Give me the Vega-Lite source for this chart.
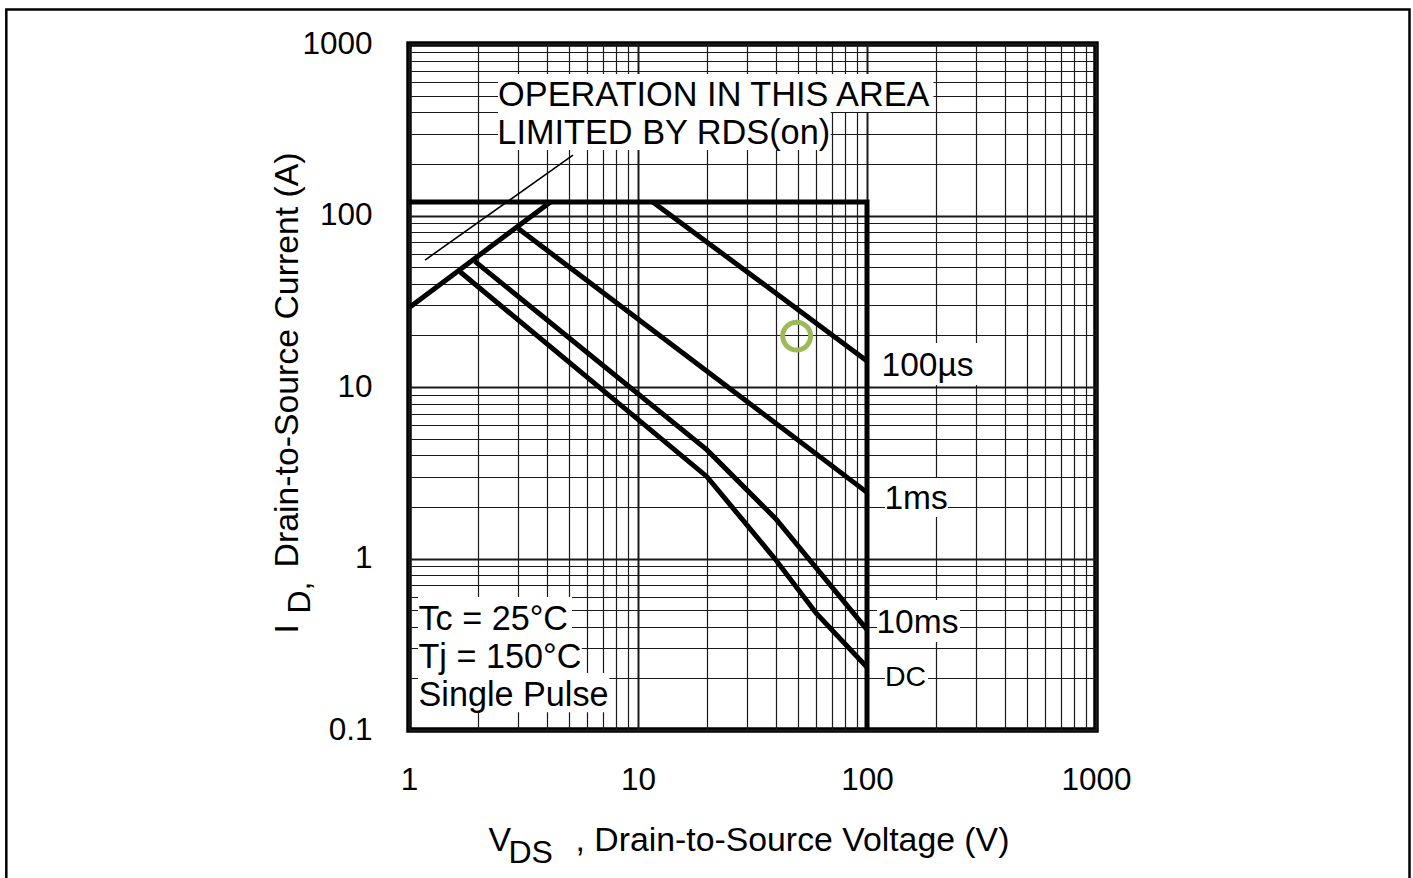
{
  "$schema": "https://vega.github.io/schema/vega-lite/v6.json",
  "width": 687,
  "height": 686,
  "autosize": {"type": "none"},
  "padding": {"left": 409, "top": 44, "right": 317, "bottom": 148},
  "background": "white",
  "config": {
    "view": {"stroke": "black", "strokeWidth": 5.5},
    "font": "Liberation Sans",
    "axis": {"labelFont": "Liberation Sans", "titleFont": "Liberation Sans", "labelColor": "black", "titleColor": "black", "titleFontWeight": "normal"}
  },
  "datasets": {
    "page": [{"v": 0.01744, "v2": 23390, "i": 1589, "i2": 0.01167}],
    "boxes": [
      {"v": 2.447, "v2": 195, "i": 668, "i2": 401},
      {"v": 2.447, "v2": 69.5, "i": 401, "i2": 241},
      {"v": 1.095, "v2": 5.15, "i": 0.596, "i2": 0.358},
      {"v": 1.095, "v2": 5.68, "i": 0.358, "i2": 0.215},
      {"v": 1.095, "v2": 7.5, "i": 0.215, "i2": 0.127},
      {"v": 105.2, "v2": 311.5, "i": 18.06, "i2": 10.27},
      {"v": 119.8, "v2": 225.8, "i": 2.947, "i2": 1.746},
      {"v": 110.6, "v2": 254.7, "i": 0.573, "i2": 0.326},
      {"v": 119.8, "v2": 184.7, "i": 0.2735, "i2": 0.1557}
    ],
    "curves": [
      {"s": "RDS", "k": 0, "v": 1, "i": 29},
      {"s": "RDS", "k": 1, "v": 4.15, "i": 120},
      {"s": "limit", "k": 0, "v": 1, "i": 120},
      {"s": "limit", "k": 1, "v": 100, "i": 120},
      {"s": "limit", "k": 2, "v": 100, "i": 0.1},
      {"s": "100us", "k": 0, "v": 11.6, "i": 120},
      {"s": "100us", "k": 1, "v": 100, "i": 14.2},
      {"s": "1ms", "k": 0, "v": 3.0, "i": 84},
      {"s": "1ms", "k": 1, "v": 100, "i": 2.43},
      {"s": "10ms", "k": 0, "v": 1.94, "i": 54},
      {"s": "10ms", "k": 1, "v": 20, "i": 4.3},
      {"s": "10ms", "k": 2, "v": 40, "i": 1.7},
      {"s": "10ms", "k": 3, "v": 100, "i": 0.385},
      {"s": "DC", "k": 0, "v": 1.67, "i": 47},
      {"s": "DC", "k": 1, "v": 20, "i": 3.0},
      {"s": "DC", "k": 2, "v": 40, "i": 0.98},
      {"s": "DC", "k": 3, "v": 60, "i": 0.48},
      {"s": "DC", "k": 4, "v": 100, "i": 0.232}
    ],
    "pointer": [
      {"v": 1.175, "i": 55},
      {"v": 5.2, "i": 225}
    ],
    "marker": [{"v": 49.3, "i": 19.8}],
    "regionNote": [
      {"v": 2.45, "i": 497, "t": "OPERATION IN THIS AREA"},
      {"v": 2.43, "i": 299, "t": "LIMITED BY RDS(on)"}
    ],
    "conditions": [
      {"v": 1.1, "i": 0.438, "t": "Tc = 25°C"},
      {"v": 1.1, "i": 0.263, "t": "Tj = 150°C"},
      {"v": 1.1, "i": 0.158, "t": "Single Pulse"}
    ],
    "curveLabels": [
      {"v": 115.7, "i": 13.3, "t": "100µs"},
      {"v": 119.2, "i": 2.22, "t": "1ms"},
      {"v": 110, "i": 0.418, "t": "10ms"}
    ],
    "dcLabel": [{"v": 119.8, "i": 0.204, "t": "DC"}]
  },
  "encoding": {
    "x": {"field": "v", "type": "quantitative", "scale": {"type": "log", "domain": [1, 1000], "nice": false}, "axis": null},
    "y": {"field": "i", "type": "quantitative", "scale": {"type": "log", "domain": [0.1, 1000], "nice": false}, "axis": null}
  },
  "layer": [
    {
      "data": {"name": "page"},
      "mark": {"type": "rect", "filled": false, "stroke": "black", "strokeWidth": 2.5, "clip": false},
      "encoding": {"x2": {"field": "v2"}, "y2": {"field": "i2"}}
    },
    {
      "data": {"name": "boxes"},
      "mark": {"type": "rect", "fill": "white", "strokeWidth": 0},
      "encoding": {"x2": {"field": "v2"}, "y2": {"field": "i2"}}
    },
    {
      "data": {"name": "curves"},
      "mark": {"type": "line", "stroke": "black", "strokeWidth": 5, "strokeJoin": "miter"},
      "encoding": {
        "x": {
          "field": "v", "type": "quantitative",
          "scale": {"type": "log", "domain": [1, 1000], "nice": false},
          "axis": {
            "orient": "bottom",
            "values": [1, 2, 3, 4, 5, 6, 7, 8, 9, 10, 20, 30, 40, 50, 60, 70, 80, 90, 100, 200, 300, 400, 500, 600, 700, 800, 900, 1000],
            "grid": true,
            "gridColor": "#1a1a1a",
            "gridWidth": {"condition": {"test": "indexof([1,10,100,1000], datum.value) >= 0", "value": 2}, "value": 1.2},
            "domain": false, "ticks": false, "tickSize": 0,
            "labelExpr": "indexof([1,10,100,1000], datum.value) >= 0 ? format(datum.value, '~g') : ''",
            "labelFlush": false, "labelOverlap": false, "labelBound": false,
            "labelFontSize": 31.5, "labelPadding": 50, "labelBaseline": "middle",
            "title": ", Drain-to-Source Voltage (V)",
            "titleFontSize": 33.8, "titleX": 166, "titleY": 120, "titleAlign": "left", "titleBaseline": "alphabetic"
          }
        },
        "y": {
          "field": "i", "type": "quantitative",
          "scale": {"type": "log", "domain": [0.1, 1000], "nice": false},
          "axis": {
            "orient": "left",
            "values": [0.1, 0.2, 0.3, 0.4, 0.5, 0.6, 0.7, 0.8, 0.9, 1, 2, 3, 4, 5, 6, 7, 8, 9, 10, 20, 30, 40, 50, 60, 70, 80, 90, 100, 200, 300, 400, 500, 600, 700, 800, 900, 1000],
            "grid": true,
            "gridColor": "#1a1a1a",
            "gridWidth": {"condition": {"test": "indexof([0.1,1,10,100,1000], datum.value) >= 0", "value": 2}, "value": 1.2},
            "domain": false, "ticks": false, "tickSize": 0,
            "labelExpr": "indexof([0.1,1,10,100,1000], datum.value) >= 0 ? format(datum.value, '~g') : ''",
            "labelFlush": false, "labelOverlap": false, "labelBound": false,
            "labelFontSize": 31.5, "labelPadding": 37, "labelAlign": "right", "labelBaseline": "middle",
            "title": "Drain-to-Source Current (A)",
            "titleFontSize": 33.8, "titleAngle": -90, "titleX": -112, "titleY": 523, "titleAlign": "left", "titleBaseline": "alphabetic"
          }
        },
        "detail": {"field": "s"},
        "order": {"field": "k"}
      }
    },
    {
      "data": {"name": "pointer"},
      "mark": {"type": "line", "stroke": "black", "strokeWidth": 1.6},
      "encoding": {
        "x": {
          "field": "v", "type": "quantitative",
          "scale": {"type": "log", "domain": [1, 1000], "nice": false},
          "axis": {"orient": "bottom", "grid": false, "labels": false, "ticks": false, "domain": false,
                   "title": "V", "titleFontSize": 33.8, "titleX": 79, "titleY": 120, "titleAlign": "left", "titleBaseline": "alphabetic"}
        },
        "y": {
          "field": "i", "type": "quantitative",
          "scale": {"type": "log", "domain": [0.1, 1000], "nice": false},
          "axis": {"orient": "left", "grid": false, "labels": false, "ticks": false, "domain": false,
                   "title": "I", "titleFontSize": 33.8, "titleAngle": -90, "titleX": -112, "titleY": 589, "titleAlign": "left", "titleBaseline": "alphabetic"}
        }
      }
    },
    {
      "data": {"name": "marker"},
      "mark": {"type": "point", "shape": "circle", "filled": false, "stroke": "#9BBB59", "strokeWidth": 5, "size": 780, "opacity": 1},
      "encoding": {
        "x": {
          "field": "v", "type": "quantitative",
          "scale": {"type": "log", "domain": [1, 1000], "nice": false},
          "axis": {"orient": "bottom", "grid": false, "labels": false, "ticks": false, "domain": false,
                   "title": "DS", "titleFontSize": 32, "titleX": 99, "titleY": 132, "titleAlign": "left", "titleBaseline": "alphabetic"}
        },
        "y": {
          "field": "i", "type": "quantitative",
          "scale": {"type": "log", "domain": [0.1, 1000], "nice": false},
          "axis": {"orient": "left", "grid": false, "labels": false, "ticks": false, "domain": false,
                   "title": "D,", "titleFontSize": 32, "titleAngle": -90, "titleX": -100, "titleY": 569, "titleAlign": "left", "titleBaseline": "alphabetic"}
        }
      }
    },
    {
      "data": {"name": "regionNote"},
      "mark": {"type": "text", "align": "left", "baseline": "middle", "fontSize": 34.3, "color": "black"},
      "encoding": {"text": {"field": "t"}}
    },
    {
      "data": {"name": "conditions"},
      "mark": {"type": "text", "align": "left", "baseline": "middle", "fontSize": 34.2, "color": "black"},
      "encoding": {"text": {"field": "t"}}
    },
    {
      "data": {"name": "curveLabels"},
      "mark": {"type": "text", "align": "left", "baseline": "middle", "fontSize": 33.5, "color": "black"},
      "encoding": {"text": {"field": "t"}}
    },
    {
      "data": {"name": "dcLabel"},
      "mark": {"type": "text", "align": "left", "baseline": "middle", "fontSize": 28.5, "color": "black"},
      "encoding": {"text": {"field": "t"}}
    }
  ],
  "resolve": {"axis": {"x": "independent", "y": "independent"}}
}
